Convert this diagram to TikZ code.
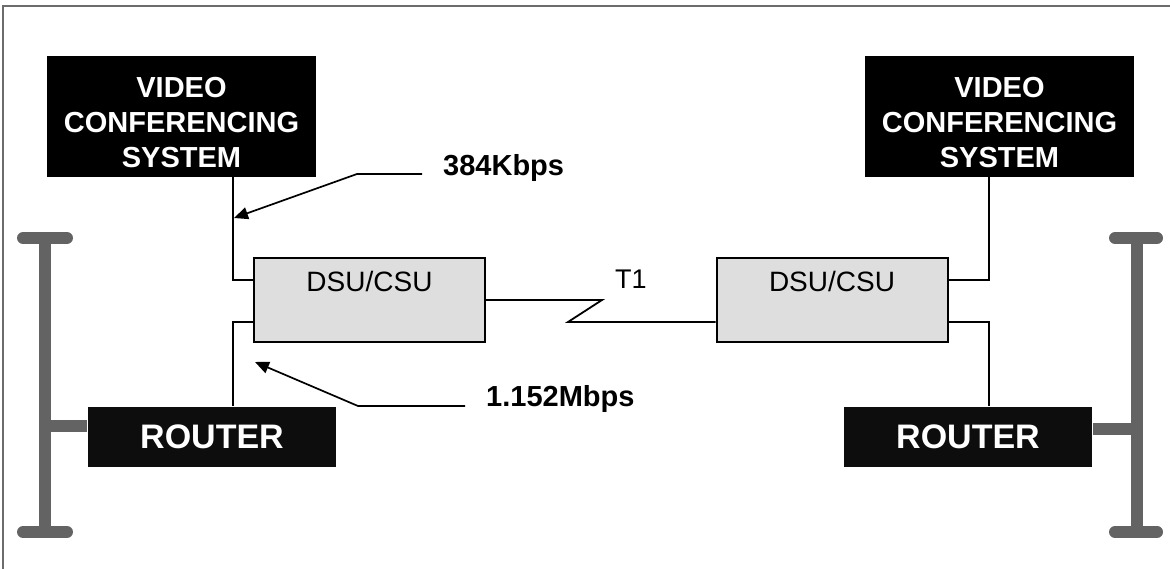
\documentclass[tikz,border=0pt]{standalone}
\usepackage{fontspec}
\setmainfont{Liberation Sans}
\usepackage{xcolor}
\usepackage{tikz}
\usetikzlibrary{arrows.meta}

\definecolor{framegray}{RGB}{108,108,108}
\definecolor{busgray}{RGB}{99,99,99}
\definecolor{dsufill}{RGB}{222,222,222}
\definecolor{routerfill}{RGB}{13,13,13}

\begin{document}
\begin{tikzpicture}[
    x=1pt, y=-1pt,
    every node/.style={inner sep=0pt},
    vcs/.style={rectangle, fill=black, text=white, align=center, minimum width=269pt, minimum height=121pt, font=\bfseries\fontsize{29}{35}\selectfont, text height=102pt, text depth=0pt},
    dsu/.style={rectangle, draw, line width=2pt, fill=dsufill, minimum width=231pt, minimum height=84pt, font=\fontsize{28}{34}\selectfont, text height=20pt, text depth=36pt},
    router/.style={rectangle, draw=black, double=white, double distance=1.2pt, line width=0.8pt, fill=routerfill, text=white, minimum width=250pt, minimum height=62pt, font=\bfseries\fontsize{34}{40}\selectfont},
    rate/.style={font=\bfseries\fontsize{29}{35}\selectfont},
    link/.style={line width=1.8pt},
    pointer/.style={line width=1.7pt, -{Triangle[length=14pt,width=12pt]}},
    bus/.style={line width=12pt, draw=busgray},
    frame/.style={line width=2pt, draw=framegray}
]
\useasboundingbox (0,0) rectangle (1170,569);
\draw[frame] (3,569) -- (3,6) -- (1170,6);

\node[vcs] (vcsL) at (181.5,116.5) {VIDEO\\CONFERENCING\\SYSTEM};
\node[vcs] (vcsR) at (999.5,116.5) {VIDEO\\CONFERENCING\\SYSTEM};
\node[dsu] (dsuL) at (369.5,300) {DSU/CSU};
\node[dsu] (dsuR) at (832,300) {DSU/CSU};
\node[router] (routerL) at (212,437) {ROUTER};
\node[router] (routerR) at (968,437) {ROUTER};

\coordinate (tapL) at (233,0);
\coordinate (tapR) at (989,0);
\draw[link] (vcsL.south -| tapL) |- ([yshift=20pt]dsuL.west);
\draw[link] ([yshift=-22pt]dsuL.west) -| (routerL.north -| tapL);
\draw[link] ([yshift=20pt]dsuR.east) -| (vcsR.south -| tapR);
\draw[link] ([yshift=-22pt]dsuR.east) -| (routerR.north -| tapR);

\coordinate (zigA) at (602,300);
\coordinate (zigB) at (568,322);
\draw[link] (dsuL.east) -- (zigA) -- (zigB) -- ([yshift=-22pt]dsuR.west);
\node[font=\fontsize{27}{32}\selectfont, anchor=base west] (t1) at (615,289) {T1};

\node[rate, anchor=base west] (r384) at (443,176) {384Kbps};
\coordinate (tip384) at (234,218);
\draw[pointer] ([xshift=-21pt,yshift=2pt]r384.base west) -- ++(-65,0) -- (tip384);

\node[rate, anchor=base west] (r1152) at (486,406) {1.152Mbps};
\coordinate (tip1152) at (255,362);
\draw[pointer] ([xshift=-21pt]r1152.base west) -- ++(-107,0) -- (tip1152);

\coordinate (busL) at (45,0);
\coordinate (busR) at (1137,0);
\draw[bus] (45,238) -- (45,532);
\draw[bus, line cap=round] (23,238) -- (67,238);
\draw[bus, line cap=round] (23,532) -- (67,532);
\draw[bus] ([yshift=11pt]routerL.west) -- ([yshift=11pt]routerL.west -| busL);
\draw[bus] (1137,238) -- (1137,532);
\draw[bus, line cap=round] (1115,238) -- (1157,238);
\draw[bus, line cap=round] (1115,532) -- (1157,532);
\draw[bus] ([yshift=8pt]routerR.east) -- ([yshift=8pt]routerR.east -| busR);
\end{tikzpicture}
\end{document}
